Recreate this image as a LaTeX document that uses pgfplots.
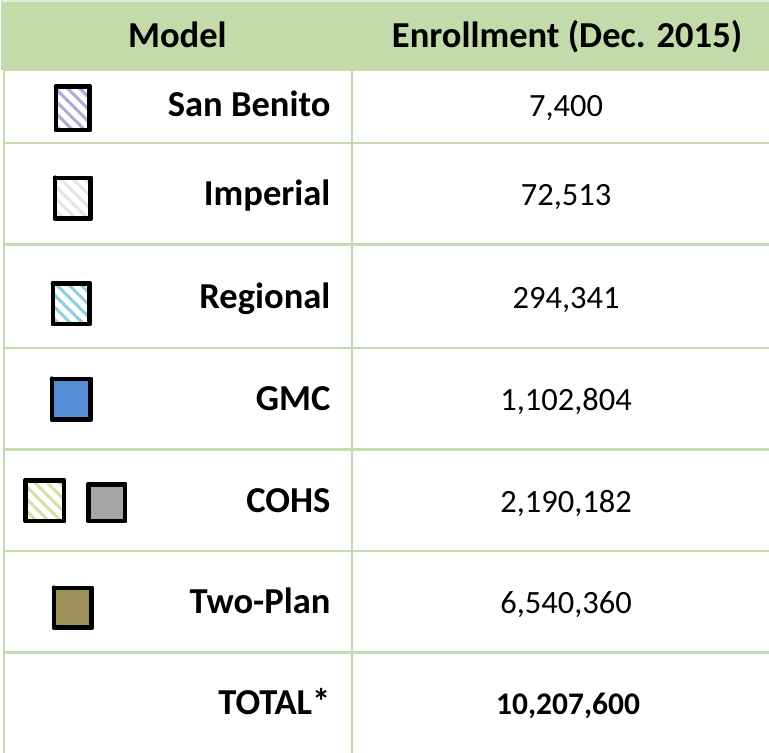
\documentclass[border=0pt]{standalone}
\usepackage{pgfplots}
\pgfplotsset{compat=1.18}
\usepackage{fontspec}
\setmainfont{Carlito}
\usetikzlibrary{patterns.meta}

\definecolor{hdr}{HTML}{C3DAAA}
\definecolor{gridc}{HTML}{C4DCAE}
\definecolor{topline}{HTML}{E2ECD8}
\definecolor{sbcol}{HTML}{B3AAD8}
\definecolor{impcol}{HTML}{E6E6E6}
\definecolor{regcol}{HTML}{8DCFE2}
\definecolor{gmccol}{HTML}{548DD4}
\definecolor{cohscol}{HTML}{D2E2A6}
\definecolor{greycol}{HTML}{A6A6A6}
\definecolor{twocol}{HTML}{9C9158}

\newcommand{\boldfont}{\fontsize{36bp}{40bp}\selectfont\bfseries}
\newcommand{\valfont}{\fontsize{32bp}{36bp}\selectfont}
\newcommand{\totfont}{\fontsize{31bp}{36bp}\selectfont\bfseries}

\begin{document}
\begin{tikzpicture}
\begin{axis}[
    width=769bp, height=744bp,
    scale only axis,
    xmin=0, xmax=769, ymin=0, ymax=744,
    y dir=reverse,
    hide axis,
    no markers,
    sw/.style={draw=black, line width=4.5bp, line join=round, line cap=round,
        preaction={fill=white}},
    stripes/.style={pattern={Lines[angle=-45,distance=8.5bp,line width=3bp]}, pattern color=#1},
    gl/.style={draw=gridc, line width=2.5bp},
    txt/.style={only marks, mark=*, mark size=0pt, mark options={draw=none, fill=none},
        nodes near coords, point meta=explicit symbolic},
]
% header band
\addplot[fill=hdr, draw=none] coordinates {(12,4) (769,4) (769,71) (12,71)};
\addplot[draw=topline, line width=1.5bp] coordinates {(12,3) (769,3)};

% grid lines
\addplot[gl] coordinates {(15,71) (769,71)};
\addplot[gl] coordinates {(15,143) (769,143)};
\addplot[gl] coordinates {(15,243) (769,243)};
\addplot[gl] coordinates {(15,345) (769,345)};
\addplot[gl] coordinates {(15,445) (769,445)};
\addplot[gl] coordinates {(15,545) (769,545)};
\addplot[gl] coordinates {(15,645) (769,645)};
\addplot[gl] coordinates {(15,71) (15,744)};
\addplot[gl] coordinates {(358,71) (358,744)};

% swatches
\addplot[sw, stripes=sbcol]
    coordinates {(66.5,87.5) (99.5,87.5) (99.5,130.5) (66.5,130.5) (66.5,87.5)};
\addplot[sw, stripes=impcol]
    coordinates {(65.5,177.5) (100.5,177.5) (100.5,217.5) (65.5,217.5) (65.5,177.5)};
\addplot[sw, stripes=regcol]
    coordinates {(63.5,281.5) (99.5,281.5) (99.5,321.5) (63.5,321.5) (63.5,281.5)};
\addplot[sw, fill=gmccol]
    coordinates {(62.5,375.5) (100.5,375.5) (100.5,415.5) (62.5,415.5) (62.5,375.5)};
\addplot[sw, stripes=cohscol]
    coordinates {(36.5,475.5) (74.5,475.5) (74.5,515.5) (36.5,515.5) (36.5,475.5)};
\addplot[sw, fill=greycol]
    coordinates {(98.5,479.5) (134.5,479.5) (134.5,515.5) (98.5,515.5) (98.5,479.5)};
\addplot[sw, fill=twocol]
    coordinates {(64.5,581.5) (101.5,581.5) (101.5,620.5) (64.5,620.5) (64.5,581.5)};

% header text
\addplot[txt, every node near coord/.append style={anchor=base, inner sep=0pt, font=\boldfont}]
    coordinates {(186,49) [Model] (570,49) [{Enrollment (Dec. 2015)}]};

% model names
\addplot[txt, every node near coord/.append style={anchor=base east, inner sep=0pt, font=\boldfont}]
    coordinates {
    (337,117) [San Benito]
    (337,205) [Imperial]
    (337,306) [Regional]
    (337,407) [GMC]
    (337,507) [COHS]
    (337,607) [Two-Plan]
    (337,706) [TOTAL*]
};

% enrollment values
\addplot[txt, every node near coord/.append style={anchor=base, inner sep=0pt, font=\valfont}]
    coordinates {
    (569,117) [{7,400}]
    (569,205) [{72,513}]
    (569,306) [{294,341}]
    (569,407) [{1,102,804}]
    (569,507) [{2,190,182}]
    (569,607) [{6,540,360}]
};
\addplot[txt, every node near coord/.append style={anchor=base, inner sep=0pt, font=\totfont}]
    coordinates {(571,706) [{10,207,600}]};
\end{axis}
\end{tikzpicture}
\end{document}
